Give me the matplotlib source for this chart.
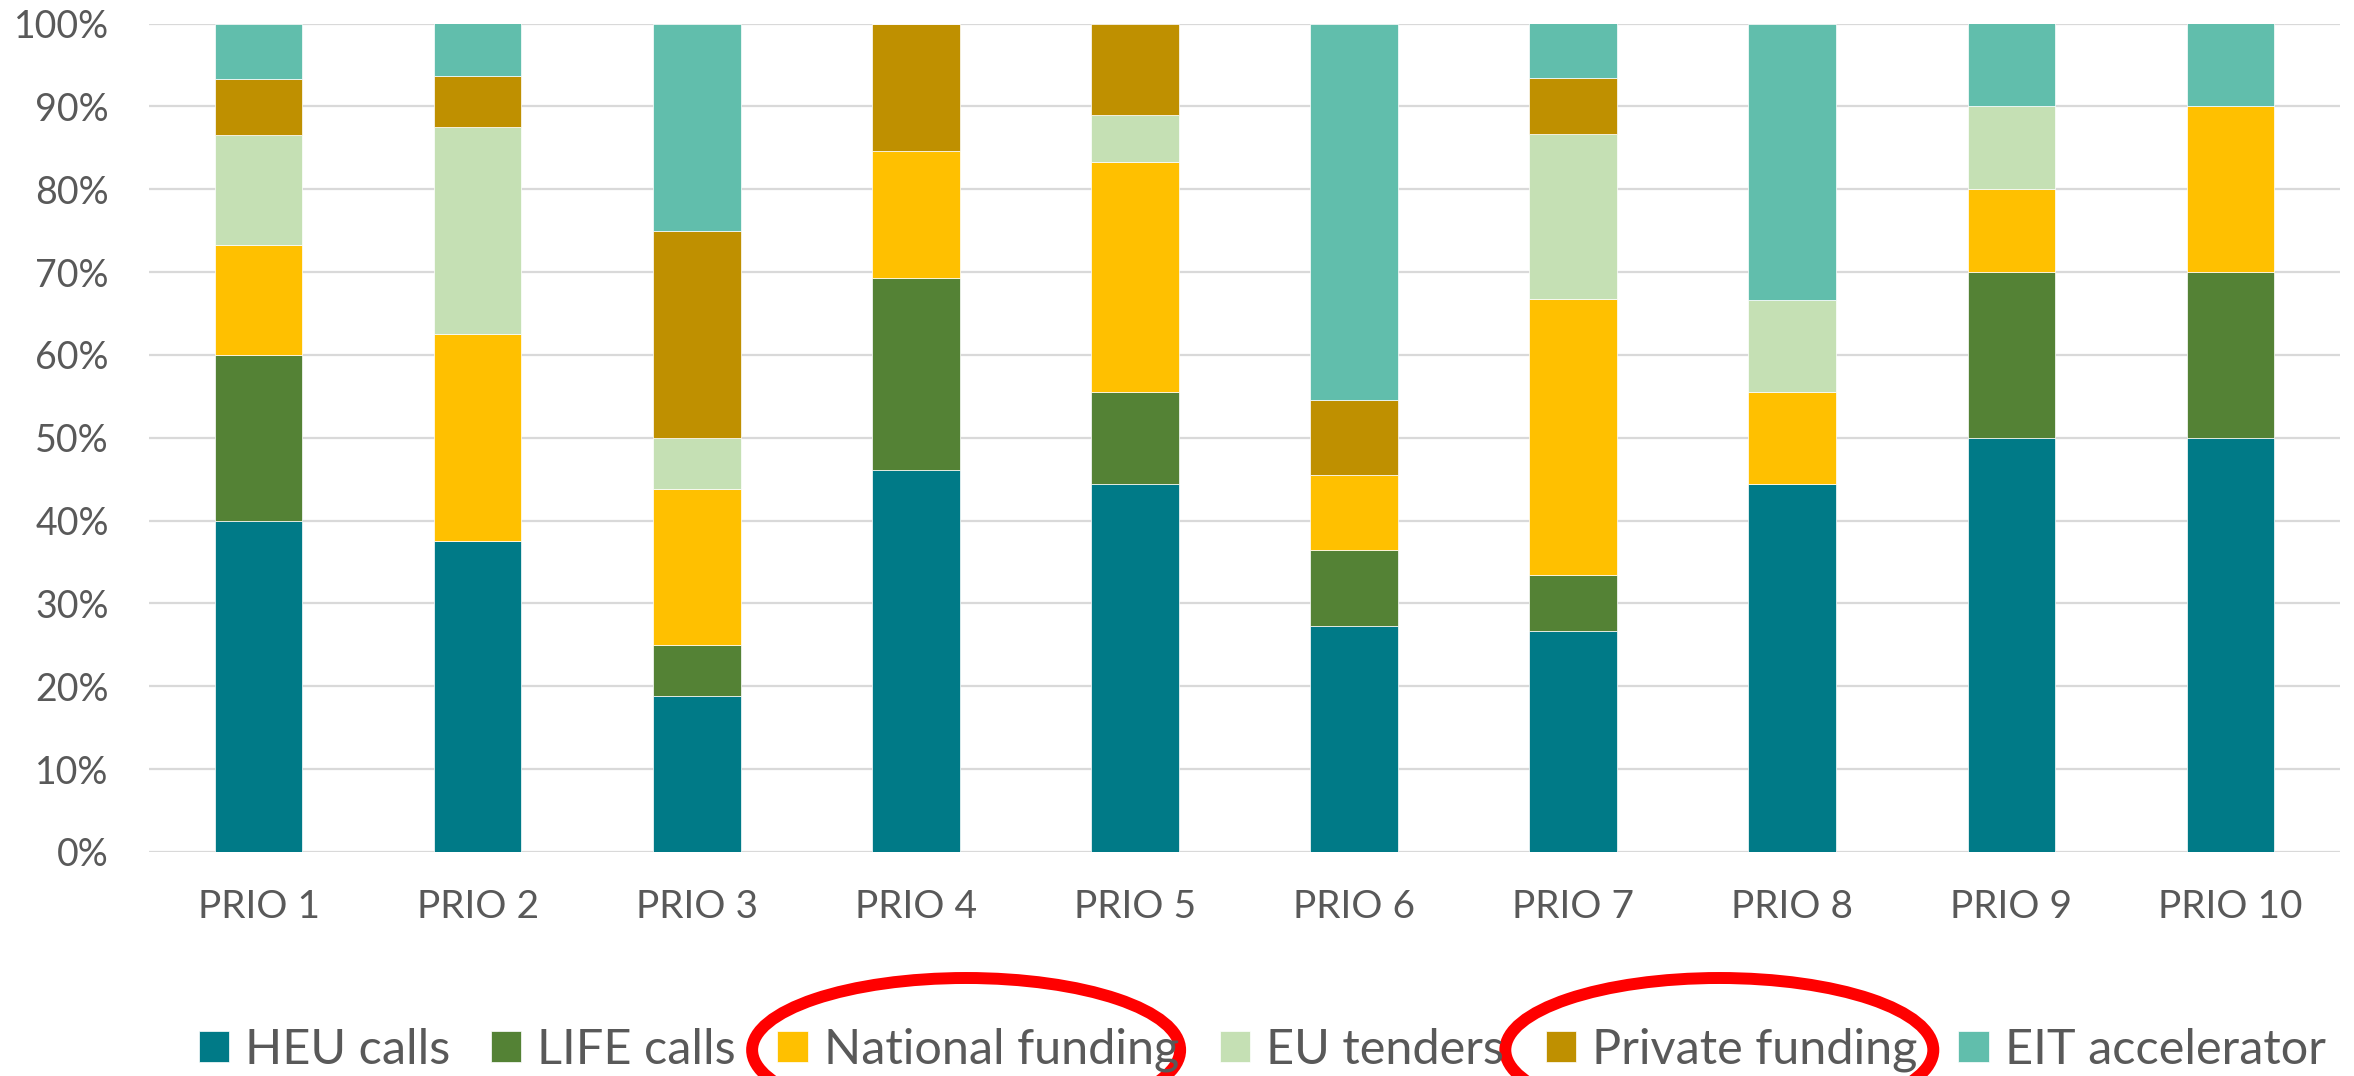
import matplotlib
matplotlib.use('Agg')
import matplotlib.pyplot as plt
import numpy as np
from matplotlib.patches import Ellipse
from matplotlib.ticker import PercentFormatter

# datos (porcentaje de cada prioridad)
categorias = ['PRIO 1', 'PRIO 2', 'PRIO 3', 'PRIO 4', 'PRIO 5',
              'PRIO 6', 'PRIO 7', 'PRIO 8', 'PRIO 9', 'PRIO 10']
series = ['HEU calls', 'LIFE calls', 'National funding',
          'EU tenders', 'Private funding', 'EIT accelerator']
heu_calls = [40.0, 37.5, 18.8, 46.2, 44.4, 27.3, 26.7, 44.4, 50.0, 50.0]
life_calls = [20.0, 0.0, 6.2, 23.1, 11.1, 9.1, 6.7, 0.0, 20.0, 20.0]
national_funding = [13.3, 25.0, 18.8, 15.4, 27.8, 9.1, 33.3, 11.1, 10.0, 20.0]
eu_tenders = [13.3, 25.0, 6.2, 0.0, 5.6, 0.0, 20.0, 11.1, 10.0, 0.0]
private_funding = [6.7, 6.2, 25.0, 15.4, 11.1, 9.1, 6.7, 0.0, 0.0, 0.0]
eit_accelerator = [6.7, 6.3, 25.0, 0.0, 0.0, 45.4, 6.6, 33.4, 10.0, 10.0]

colores = ['#007A87', '#548235', '#FFC000', '#C5E0B4', '#BF9000', '#61BEAC']
gris = '#595959'

plt.rcParams['font.family'] = ['Lato', 'DejaVu Sans']

W, H = 2354, 1076
fig = plt.figure(figsize=(W / 100, H / 100), dpi=100)
ax = fig.add_axes([149 / W, 1 - 852 / H, (2340 - 149) / W, (852 - 23.5) / H])

datos = np.array([heu_calls, life_calls, national_funding,
                  eu_tenders, private_funding, eit_accelerator])
datos = datos / datos.sum(axis=0)

x = np.arange(len(categorias))
base = np.zeros(len(categorias))
for nombre, valores, color in zip(series, datos, colores):
    ax.bar(x, valores, width=0.4, bottom=base, color=color,
           edgecolor='white', linewidth=0.5, label=nombre, zorder=2)
    base += valores

ax.set_xlim(-0.5, len(categorias) - 0.5)
ax.set_ylim(0, 1)
ax.set_yticks(np.linspace(0, 1, 11))
ax.yaxis.set_major_formatter(PercentFormatter(1.0, decimals=0))
ax.set_xticks(x)
ax.set_xticklabels(categorias)
ax.tick_params(axis='y', length=0, pad=29, labelsize=27, labelcolor=gris)
ax.tick_params(axis='x', length=0, pad=27, labelsize=28, labelcolor=gris)
ax.yaxis.grid(True, color='#D9D9D9', linewidth=1.6, zorder=0)
ax.set_axisbelow(True)
for s in ax.spines.values():
    s.set_visible(False)

leg = fig.legend(loc='center', bbox_to_anchor=(1262 / W, 1 - 1050 / H),
                 ncol=6, frameon=False, fontsize=35, labelcolor=gris,
                 handlelength=0.62, handleheight=0.62, handletextpad=0.33,
                 columnspacing=0.85, borderpad=0, borderaxespad=0)

# elipses rojas alrededor de dos entradas de la leyenda
fig.canvas.draw()
r = fig.canvas.get_renderer()
for i in (2, 4):
    hb = leg.legend_handles[i].get_window_extent(r)
    tb = leg.get_texts()[i].get_window_extent(r)
    cx = (hb.x0 + tb.x1) / 2 - 12
    cy = (tb.y0 + tb.y1) / 2
    e = Ellipse((cx / W, cy / H), 428 / W, 144 / H, transform=fig.transFigure,
                fill=False, edgecolor='#FF0000', linewidth=8.6, clip_on=False)
    fig.add_artist(e)

fig.savefig('out.png', dpi=100)
